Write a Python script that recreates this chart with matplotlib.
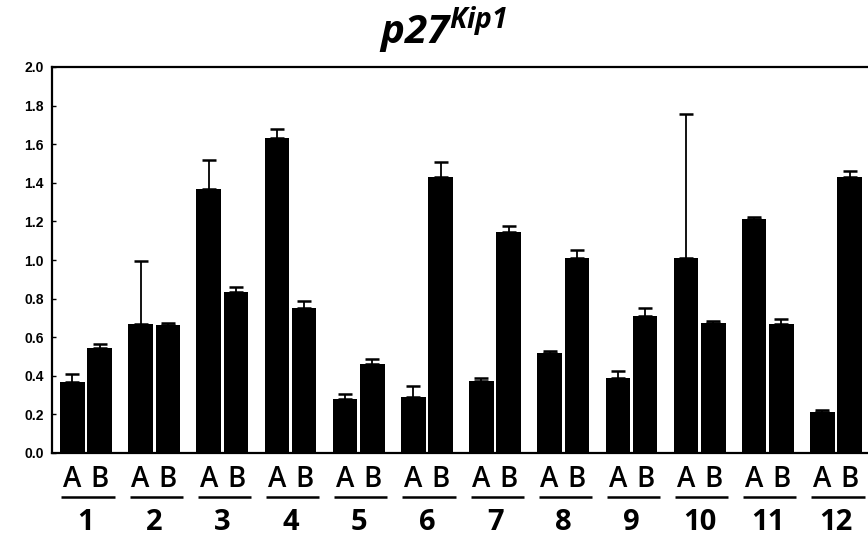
import matplotlib
matplotlib.use("Agg")
import matplotlib.pyplot as plt
import matplotlib.transforms as mtransforms
import numpy as np

groups = ["1", "2", "3", "4", "5", "6", "7", "8", "9", "10", "11", "12"]
series_names = ["A", "B"]
values_a = [0.37, 0.67, 1.37, 1.63, 0.28, 0.29, 0.375, 0.52, 0.39, 1.01, 1.21, 0.215]
values_b = [0.545, 0.665, 0.835, 0.75, 0.46, 1.43, 1.145, 1.01, 0.71, 0.675, 0.67, 1.43]
err_a = [0.04, 0.325, 0.15, 0.05, 0.026, 0.055, 0.014, 0.006, 0.035, 0.745, 0.013, 0.006]
err_b = [0.018, 0.006, 0.026, 0.035, 0.025, 0.08, 0.031, 0.043, 0.043, 0.007, 0.022, 0.031]
yticks = [0.0, 0.2, 0.4, 0.6, 0.8, 1.0, 1.2, 1.4, 1.6, 1.8, 2.0]

plt.rcParams['mathtext.fontset'] = 'custom'
plt.rcParams['mathtext.rm'] = 'Open Sans:italic:bold'
plt.rcParams['mathtext.it'] = 'Open Sans:italic:bold'
plt.rcParams['mathtext.bf'] = 'Open Sans:italic:bold'

W, H = 868, 537
fig = plt.figure(figsize=(W / 100, H / 100), dpi=100)
ax = fig.add_axes([52 / W, 1 - 453 / H, (868 - 52) / W, (453 - 67) / H])

x = np.arange(len(groups))
off = 0.2
bw = 0.36
ekw = dict(elinewidth=1.3, capsize=5, capthick=1.8, ecolor='black')
ax.bar(x - off, values_a, width=bw, color='black',
       yerr=[np.zeros(len(err_a)), err_a], error_kw=ekw, zorder=2)
ax.bar(x + off, values_b, width=bw, color='black',
       yerr=[np.zeros(len(err_b)), err_b], error_kw=ekw, zorder=2)

ax.set_xlim(-0.499, 11.47)
ax.set_ylim(0, 2.0)
ax.set_yticks(yticks)
ax.set_yticklabels([f"{v:.1f}" for v in yticks], fontfamily='Liberation Sans',
                   fontweight='bold', fontsize=10)
ax.tick_params(axis='y', direction='in', length=3, width=1, pad=6)
ax.set_xticks([])
for s in ['left', 'top', 'bottom']:
    ax.spines[s].set_linewidth(1.6)
ax.spines['right'].set_visible(False)

trans = mtransforms.blended_transform_factory(ax.transData, fig.transFigure)
for i, g in enumerate(groups):
    ax.text(i - off, 1 - 487 / H, series_names[0], transform=trans, ha='center',
            va='baseline', fontsize=20, fontfamily='Open Sans', fontweight='semibold',
            clip_on=False)
    ax.text(i + off, 1 - 487 / H, series_names[1], transform=trans, ha='center',
            va='baseline', fontsize=20, fontfamily='Open Sans', fontweight='semibold',
            clip_on=False)
    ax.plot([i - 0.36, i + 0.42], [1 - 497 / H] * 2, transform=trans, color='black',
            lw=1.8, clip_on=False, solid_capstyle='butt')
    ax.text(i, 1 - 530 / H, g, transform=trans, ha='center', va='baseline',
            fontsize=21, fontfamily='Open Sans', fontweight='bold', clip_on=False)

fig.text(443 / W, 1 - 44 / H, r'$p27^{Kip1}$', ha='center', va='baseline', fontsize=29)

fig.savefig("out.png", dpi=100)
